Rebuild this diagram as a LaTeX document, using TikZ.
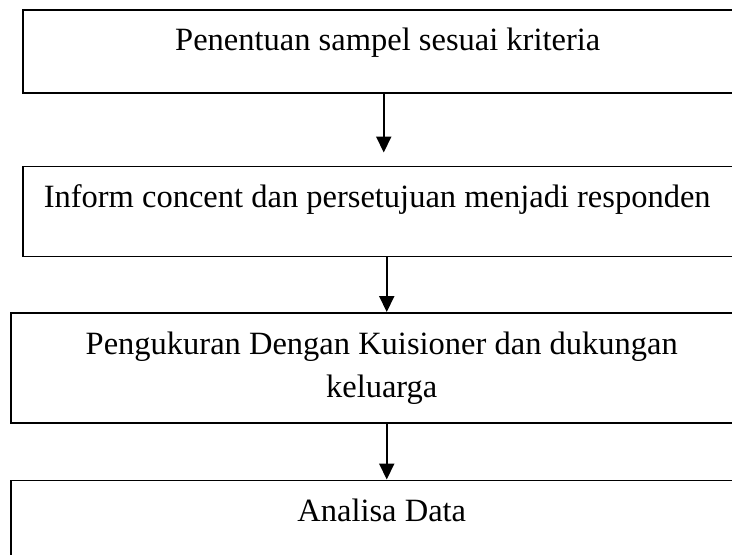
\documentclass[tikz,border=0pt]{standalone}
\usepackage{fontspec}
\setmainfont{Liberation Serif}
\usetikzlibrary{positioning,arrows.meta}

\begin{document}
\begin{tikzpicture}[x=1pt, y=-1pt,
  font=\fontsize{32.5}{43}\selectfont,
  flowbox/.style={draw, line width=1.5pt, anchor=north west, inner xsep=0pt, inner ysep=0pt},
  arr/.style={-{Triangle[length=16pt, width=15pt]}, line width=2pt}]
\clip (0,0) rectangle (732,555);
\node[flowbox, minimum width=730pt, text height=41pt, text depth=42pt] (sampel) at (22,9)
  {Penentuan sampel sesuai kriteria};
\node[flowbox, below right=72pt and 0pt of sampel.south west, text width=688pt, inner xsep=21pt,
  align=flush left, text height=41pt, text depth=49pt] (inform)
  {Inform concent dan persetujuan menjadi responden};
\node[flowbox, below right=55pt and -12pt of inform.south west, minimum width=742pt,
  minimum height=110pt, align=center] (ukur)
  {Pengukuran Dengan Kuisioner dan dukungan\\keluarga};
\node[flowbox, below right=56pt and 0pt of ukur.south west, minimum width=742pt,
  text height=41pt, text depth=80pt] (analisa) {Analisa Data};
\draw[arr, shorten >=13pt] ([xshift=-4pt]sampel.south) -- ([xshift=-4pt]sampel.south |- inform.north);
\draw[arr] ([xshift=-1pt]inform.south) -- ([xshift=-1pt]inform.south |- ukur.north);
\draw[arr] ([xshift=5pt]ukur.south) -- ([xshift=5pt]ukur.south |- analisa.north);
\end{tikzpicture}
\end{document}
